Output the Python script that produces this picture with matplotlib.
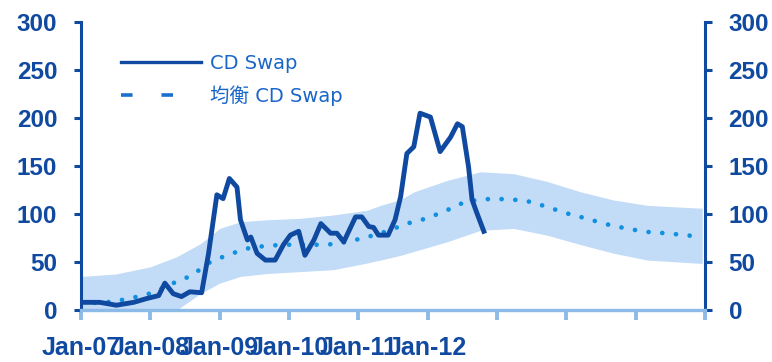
import matplotlib
matplotlib.use("Agg")
import matplotlib.pyplot as plt
from matplotlib.lines import Line2D

# CD Swap (decimal years, bp)
swap_t = [2007.0, 2007.27, 2007.51, 2007.76, 2007.95, 2008.12, 2008.21, 2008.33, 2008.45,
          2008.57, 2008.74, 2008.84, 2008.96, 2009.05, 2009.14, 2009.25, 2009.30, 2009.40,
          2009.45, 2009.54, 2009.66, 2009.80, 2009.92, 2010.02, 2010.14, 2010.23, 2010.36,
          2010.46, 2010.60, 2010.69, 2010.79, 2010.96, 2011.05, 2011.15, 2011.22, 2011.29,
          2011.43, 2011.53, 2011.61, 2011.70, 2011.80, 2011.89, 2012.04, 2012.18, 2012.33,
          2012.43, 2012.50, 2012.59, 2012.64, 2012.71, 2012.81]
swap_v = [8, 8, 5, 8, 12, 15, 28, 17, 14,
          19, 18, 59, 120, 116, 137, 128, 94, 73,
          76, 59, 52, 52, 68, 78, 82, 57, 73,
          90, 80, 80, 71, 97, 97, 87, 86, 78,
          78, 94, 118, 163, 170, 205, 201, 165, 180,
          194, 191, 149, 115, 101, 82]

# equilibrium CD Swap and its band
eq_t = [2007.0, 2007.27, 2007.49, 2007.76, 2008.04, 2008.33, 2008.60, 2008.84, 2009.10,
        2009.39, 2009.68, 2009.97, 2010.26, 2010.55, 2010.84, 2011.13, 2011.41, 2011.70,
        2011.99, 2012.28, 2012.55, 2012.83, 2013.12, 2013.41, 2013.70, 2013.99, 2014.28,
        2014.57, 2014.86, 2015.14, 2015.43, 2015.72, 2015.96]
eq_v = [7.5, 7.5, 9, 13, 18, 28, 36, 49, 57,
        64, 67, 68, 68, 68, 71, 76, 82, 90,
        95.5, 104, 113, 115.5, 115.5, 114, 108, 101, 95.5,
        89.5, 85, 81.5, 80, 78, 76]
band_t = [2007.0, 2007.5, 2008.0, 2008.38, 2008.72, 2009.0, 2009.3, 2009.68, 2010.16,
          2010.64, 2011.13, 2011.32, 2011.61, 2011.80, 2012.28, 2012.76, 2013.24, 2013.72,
          2014.21, 2014.69, 2015.17, 2015.96]
band_hi = [35, 37.5, 45, 55.5, 69, 85, 92, 94, 95.5,
           99, 104, 109, 115, 123, 135, 144, 142, 134,
           123, 114.5, 109, 106]
band_lo = [-30, -22, -10, 0, 17, 28, 35, 38, 40,
           42, 49, 52, 57, 61, 71, 83, 85, 78,
           68, 59, 52, 48.5]

years = list(range(2007, 2017))
xlabels = ["Jan-07", "Jan-08", "Jan-09", "Jan-10", "Jan-11", "Jan-12", "", "", "", ""]
yticks = [0, 50, 100, 150, 200, 250, 300]

dark = "#0f49a0"
dot = "#1190e0"
band = "#c2dcf7"
axis_light = "#8cbbe8"

fig = plt.figure(figsize=(7.72, 3.62), dpi=100)
ax = fig.add_axes([0.1049, 0.1436, 0.8083, 0.7956])

ax.fill_between(band_t, band_lo, band_hi, color=band, lw=0, zorder=1)
ax.plot(eq_t, eq_v, color=dot, lw=3.4, linestyle=(0, (0.01, 2.9)),
        dash_capstyle="round", zorder=2)
ax.plot(swap_t, swap_v, color=dark, lw=3.5, solid_joinstyle="round", zorder=3)

ax.set_xlim(2007, 2016)
ax.set_ylim(0, 300)
ax.set_xticks(years)
ax.set_xticklabels(xlabels)
ax.set_yticks(yticks)

ax.spines["top"].set_visible(False)
ax.spines["left"].set_color(dark)
ax.spines["left"].set_linewidth(2.2)
ax.spines["right"].set_color(dark)
ax.spines["right"].set_linewidth(2.2)
ax.spines["bottom"].set_color(axis_light)
ax.spines["bottom"].set_linewidth(2.4)

ax.tick_params(axis="x", colors=axis_light, length=7, width=2.8, pad=12)
ax.tick_params(axis="y", colors=dark, length=5, width=2.2, pad=12,
               left=True, right=True, labelleft=True, labelright=True)

for lab in ax.get_xticklabels():
    lab.set_color(dark)
    lab.set_fontfamily("Liberation Sans")
    lab.set_fontweight("bold")
    lab.set_fontsize(18)
for t in ax.yaxis.get_major_ticks():
    for lab in (t.label1, t.label2):
        lab.set_fontfamily("Liberation Sans")
        lab.set_fontweight("bold")
        lab.set_fontsize(17.5)
        lab.set_color(dark)

handles = [Line2D([], [], color=dark, lw=2.4),
           Line2D([], [], color="#1a6fd0", lw=2.6, dashes=(3.2, 8.0))]
leg = ax.legend(handles, ["CD Swap", "均衡 CD Swap"], loc="upper left",
                bbox_to_anchor=(0.036, 0.95), frameon=False, handlelength=4.1,
                labelspacing=0.62, handletextpad=0.5,
                prop={"family": ["DejaVu Sans", "Noto Sans CJK JP"], "size": 14})
for txt in leg.get_texts():
    txt.set_color("#1a66c8")

fig.savefig("out.png", dpi=100)
